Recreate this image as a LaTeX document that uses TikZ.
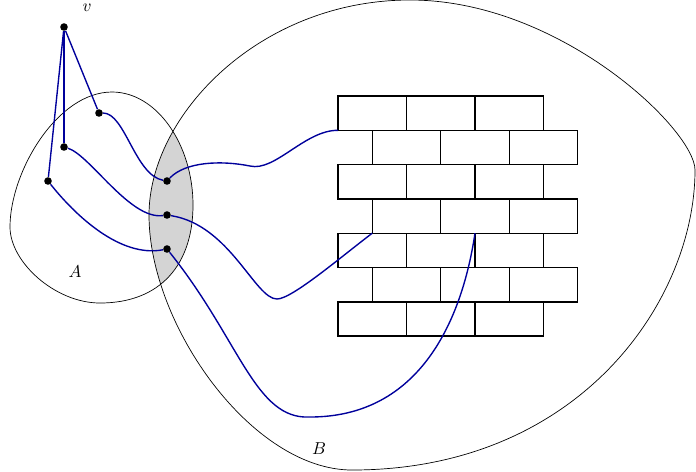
\documentclass[tikz,border=0pt]{standalone}
\usepackage{amsmath,amssymb}
\usepackage{tikz}
\usetikzlibrary{arrows.meta,positioning,calc}
\definecolor{walkblue}{RGB}{0,0,155}

\begin{document}
\begin{tikzpicture}[x=0.0204cm, y=-0.0204cm,
    brick/.style={draw, thick, rectangle, minimum width=1.397cm, minimum height=0.7cm, inner sep=0pt, outer sep=0pt, anchor=north west},
    walk/.style={draw=walkblue, thick},
    dot/.style={circle, fill=black, inner sep=0pt, minimum size=4.4pt},
    lens/.style={fill=black!17},
    lbl/.style={inner sep=1pt}
]
\useasboundingbox (0,0) rectangle (696,471);

\def\shapeA{(112,92) .. controls (157,92) and (193,145) .. (193,205)
    .. controls (193,265) and (160,303) .. (100,303)
    .. controls (55,303) and (10,262) .. (10,227)
    .. controls (10,172) and (57,92) .. (112,92) -- cycle}
\def\shapeB{(410,0) .. controls (560,0) and (695,130) .. (695,170)
    .. controls (695,300) and (580,470) .. (352,470)
    .. controls (252,470) and (149,325) .. (149,215)
    .. controls (149,115) and (260,0) .. (410,0) -- cycle}

% the shared part of A and B
\begin{scope}
  \clip \shapeA;
  \fill[lens] \shapeB;
\end{scope}
\draw \shapeA;
\draw \shapeB;

% wall
\foreach \r in {0,...,6} {
  \pgfmathsetmacro\off{mod(\r,2)*34.25}
  \foreach \c in {0,1,2}
    \node[brick] (b\r\c) at (338+\off+\c*68.5, 96+\r*34.3) {};
}

\node[dot] (v) at (64,27) {};
\node[dot] (a1) at (99,113) {};
\node[dot] (a2) at (64,147) {};
\node[dot] (a3) at (48,181) {};
\node[dot] (g1) at (167,181) {};
\node[dot] (g2) at (167,215) {};
\node[dot] (g3) at (167,249) {};

\node[lbl] (lv) at (87,8) {$v$};
\node[lbl] (lA) at (75,272) {$A$};
\node[lbl] (lB) at (319,449) {$B$};

\draw[walk] (v) -- (a1);
\draw[walk] (v) -- (a2);
\draw[walk] (v) -- (a3);
\draw[walk] (a1) .. controls (125,113) and (135,175) .. (g1);
\draw[walk] (a2) .. controls (90,155) and (130,220) .. (g2);
\draw[walk] (a3) .. controls (75,215) and (120,258) .. (g3);
\draw[walk] (g1) .. controls (185,162) and (220,160) .. (250,166)
    .. controls (275,172) and (305,130) .. (b00.south west);
\draw[walk] (g2) .. controls (230,225) and (255,299) .. (277,299)
    .. controls (292,299) and (342,256) .. (b30.south west);
\draw[walk] (g3) .. controls (240,340) and (255,420) .. (310,417)
    .. controls (420,417) and (462,320) .. (b42.north west);
\end{tikzpicture}
\end{document}
